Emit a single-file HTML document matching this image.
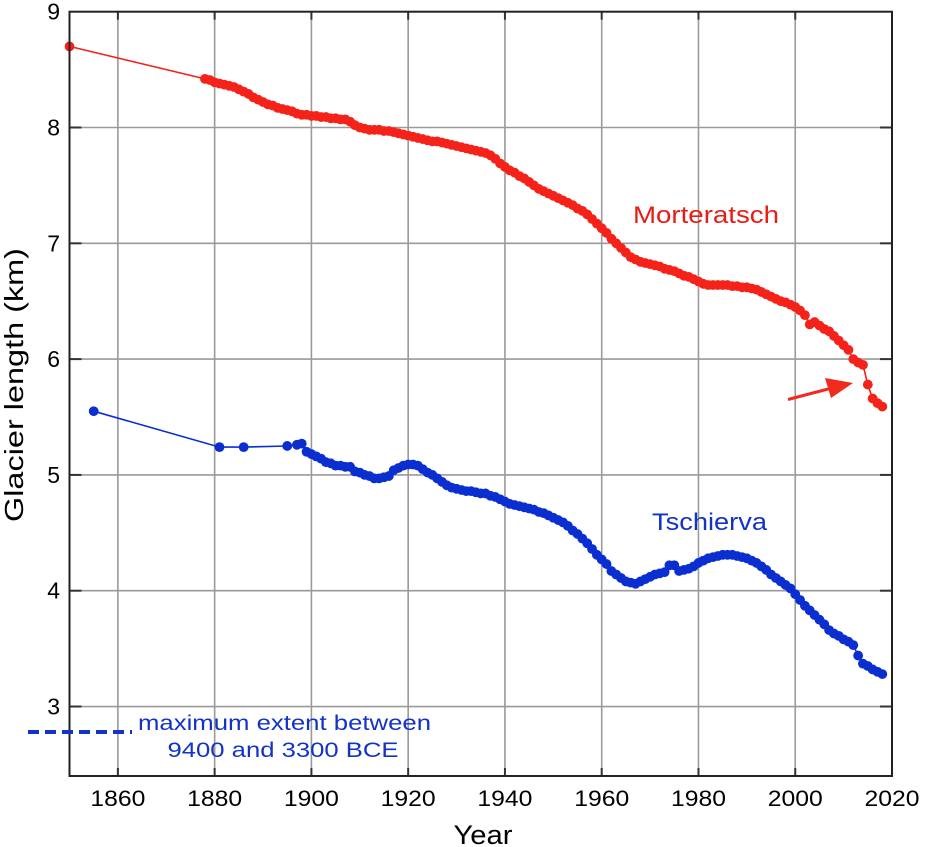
<!DOCTYPE html>
<html><head><meta charset="utf-8">
<style>
html,body{margin:0;padding:0;background:#fff;}
svg{display:block;font-family:"Liberation Sans",sans-serif;}
</style></head>
<body>
<svg id="chart" width="925" height="847" viewBox="0 0 925 847" xmlns="http://www.w3.org/2000/svg">
<g id="grid"></g>
<g id="series"></g>
<g id="axes"></g>
<text x="0" y="0" transform="translate(23,385) rotate(-90)" text-anchor="middle" font-size="26" textLength="274" lengthAdjust="spacingAndGlyphs" fill="#000">Glacier length (km)</text>
<text x="483" y="844" text-anchor="middle" font-size="27" textLength="59" lengthAdjust="spacingAndGlyphs" fill="#000">Year</text>
<text x="633" y="223" font-size="24" textLength="146" lengthAdjust="spacingAndGlyphs" fill="#e81c14">Morteratsch</text>
<text x="652" y="530" font-size="24" textLength="115" lengthAdjust="spacingAndGlyphs" fill="#1232c8">Tschierva</text>
<line x1="28" y1="732" x2="132" y2="732" stroke="#1232c8" stroke-width="4" stroke-dasharray="11,6"/>
<text x="138" y="730" font-size="21" textLength="293" lengthAdjust="spacingAndGlyphs" fill="#1232c8">maximum extent between</text>
<text x="283" y="757" text-anchor="middle" font-size="21" textLength="231" lengthAdjust="spacingAndGlyphs" fill="#1232c8">9400 and 3300 BCE</text>
<g>
<line x1="788" y1="399.5" x2="830" y2="388.5" stroke="#f02a1c" stroke-width="3"/>
<polygon points="853,383 825,378 831,398" fill="#f02a1c"/>
</g>
</svg>
<script>
const xTicks = [1860,1880,1900,1920,1940,1960,1980,2000,2020];
const yTicks = [3,4,5,6,7,8,9];
const mortYears = [1850,1878,1879,1880,1881,1882,1883,1884,1885,1886,1887,1888,1889,1890,1891,1892,1893,1894,1895,1896,1897,1898,1899,1900,1901,1902,1903,1904,1905,1906,1907,1908,1909,1910,1911,1912,1913,1914,1915,1916,1917,1918,1919,1920,1921,1922,1923,1924,1925,1926,1927,1928,1929,1930,1931,1932,1933,1934,1935,1936,1937,1938,1939,1940,1941,1942,1943,1944,1945,1946,1947,1948,1949,1950,1951,1952,1953,1954,1955,1956,1957,1958,1959,1960,1961,1962,1963,1964,1965,1966,1967,1968,1969,1970,1971,1972,1973,1974,1975,1976,1977,1978,1979,1980,1981,1982,1983,1984,1985,1986,1987,1988,1989,1990,1991,1992,1993,1994,1995,1996,1997,1998,1999,2000,2001,2002,2003,2004,2005,2006,2007,2008,2009,2010,2011,2012,2013,2014,2015,2016,2017,2018];
const mortValues = [8.70,8.42,8.41,8.39,8.38,8.37,8.36,8.35,8.33,8.31,8.29,8.26,8.24,8.22,8.20,8.19,8.17,8.16,8.15,8.14,8.12,8.11,8.11,8.10,8.10,8.09,8.09,8.08,8.08,8.07,8.07,8.05,8.02,8.00,7.99,7.98,7.98,7.98,7.97,7.97,7.96,7.95,7.94,7.93,7.92,7.91,7.90,7.89,7.88,7.88,7.87,7.86,7.85,7.84,7.83,7.82,7.81,7.80,7.79,7.78,7.76,7.73,7.69,7.66,7.63,7.61,7.58,7.56,7.53,7.50,7.47,7.45,7.43,7.41,7.39,7.37,7.35,7.33,7.30,7.28,7.25,7.21,7.17,7.13,7.09,7.04,7.00,6.96,6.92,6.88,6.86,6.84,6.83,6.82,6.81,6.80,6.78,6.77,6.76,6.74,6.72,6.71,6.69,6.67,6.65,6.64,6.64,6.64,6.64,6.64,6.63,6.63,6.62,6.62,6.61,6.60,6.58,6.56,6.54,6.52,6.50,6.49,6.47,6.45,6.42,6.38,6.30,6.32,6.29,6.26,6.24,6.20,6.16,6.12,6.08,6.00,5.97,5.95,5.78,5.66,5.62,5.59];
const tschYears = [1855,1881,1886,1895,1897,1898,1899,1900,1901,1902,1903,1904,1905,1906,1907,1908,1909,1910,1911,1912,1913,1914,1915,1916,1917,1918,1919,1920,1921,1922,1923,1924,1925,1926,1927,1928,1929,1930,1931,1932,1933,1934,1935,1936,1937,1938,1939,1940,1941,1942,1943,1944,1945,1946,1947,1948,1949,1950,1951,1952,1953,1954,1955,1956,1957,1958,1959,1960,1961,1962,1963,1964,1965,1966,1967,1968,1969,1970,1971,1972,1973,1974,1975,1976,1977,1978,1979,1980,1981,1982,1983,1984,1985,1986,1987,1988,1989,1990,1991,1992,1993,1994,1995,1996,1997,1998,1999,2000,2001,2002,2003,2004,2005,2006,2007,2008,2009,2010,2011,2012,2013,2014,2015,2016,2017,2018];
const tschValues = [5.55,5.24,5.24,5.25,5.26,5.27,5.20,5.18,5.16,5.14,5.11,5.10,5.08,5.08,5.07,5.07,5.03,5.02,5.00,4.99,4.97,4.97,4.98,4.99,5.04,5.06,5.08,5.09,5.09,5.08,5.05,5.02,5.00,4.97,4.94,4.91,4.89,4.88,4.87,4.86,4.86,4.85,4.84,4.84,4.82,4.81,4.79,4.77,4.75,4.74,4.73,4.72,4.71,4.70,4.68,4.67,4.65,4.63,4.61,4.59,4.56,4.52,4.49,4.45,4.41,4.36,4.31,4.27,4.23,4.17,4.14,4.11,4.08,4.07,4.06,4.08,4.10,4.12,4.14,4.15,4.16,4.22,4.22,4.17,4.18,4.19,4.21,4.24,4.26,4.28,4.29,4.30,4.31,4.31,4.31,4.30,4.29,4.28,4.26,4.24,4.21,4.18,4.14,4.11,4.08,4.05,4.02,3.97,3.92,3.87,3.83,3.79,3.75,3.71,3.66,3.63,3.61,3.58,3.56,3.53,3.44,3.37,3.35,3.32,3.30,3.28];

const X0=69.5, X1=892, Y0=776, Y1=11.7;
const xMin=1850, xMax=2020, yMin=2.4, yMax=9;
function xs(v){return X0+(v-xMin)/(xMax-xMin)*(X1-X0);}
function ys(v){return Y0-(v-yMin)/(yMax-yMin)*(Y0-Y1);}
const NS="http://www.w3.org/2000/svg";
function mk(tag,attrs,parent){const e=document.createElementNS(NS,tag);for(const k in attrs)e.setAttribute(k,attrs[k]);parent.appendChild(e);return e;}
const grid=document.getElementById('grid'), axes=document.getElementById('axes'), series=document.getElementById('series');

xTicks.forEach(t=>{
  const x=xs(t);
  if(t<xMax){
    const g=mk('line',{x1:x,y1:Y1,x2:x,y2:Y0,stroke:'#9a9a9a','stroke-width':1.6},grid);
    
    
    mk('line',{x1:x,y1:Y0,x2:x,y2:Y0-8,stroke:'#333','stroke-width':2},axes);
    mk('line',{x1:x,y1:Y1,x2:x,y2:Y1+8,stroke:'#333','stroke-width':2},axes);
  }
  const tx=mk('text',{x:x,y:806,'text-anchor':'middle','font-size':22,textLength:55,lengthAdjust:'spacingAndGlyphs',fill:'#000'},axes);
  tx.textContent=t;
  
  
});
yTicks.forEach(t=>{
  const y=ys(t);
  if(t<yMax){
    const g=mk('line',{x1:X0,y1:y,x2:X1,y2:y,stroke:'#9a9a9a','stroke-width':1.6},grid);
    
    
    mk('line',{x1:X0,y1:y,x2:X0+12,y2:y,stroke:'#333','stroke-width':2},axes);
    mk('line',{x1:X1,y1:y,x2:X1-12,y2:y,stroke:'#333','stroke-width':2},axes);
  }
  const tx=mk('text',{x:60,y:y+8,'text-anchor':'end','font-size':23,fill:'#000'},axes);
  tx.textContent=t;
  
  
});
const frame=mk('rect',{x:X0,y:Y1,width:X1-X0,height:Y0-Y1,fill:'none',stroke:'#222','stroke-width':2},axes);



function drawSeries(years,vals,color,name){
  const g=mk('g',{},series);
  
  
  const pts=years.map((yr,i)=>xs(yr).toFixed(1)+','+ys(vals[i]).toFixed(1)).join(' ');
  const pl=mk('polyline',{points:pts,fill:'none',stroke:color,'stroke-width':1.6},g);
  
  
  years.forEach((yr,i)=>{
    const c=mk('circle',{cx:xs(yr),cy:ys(vals[i]),r:4.9,fill:color},g);
    
    
  });
}
drawSeries(mortYears,mortValues,'#f5221a','morteratsch-series');
drawSeries(tschYears,tschValues,'#0a2ed0','tschierva-series');
</script>
</body></html>
